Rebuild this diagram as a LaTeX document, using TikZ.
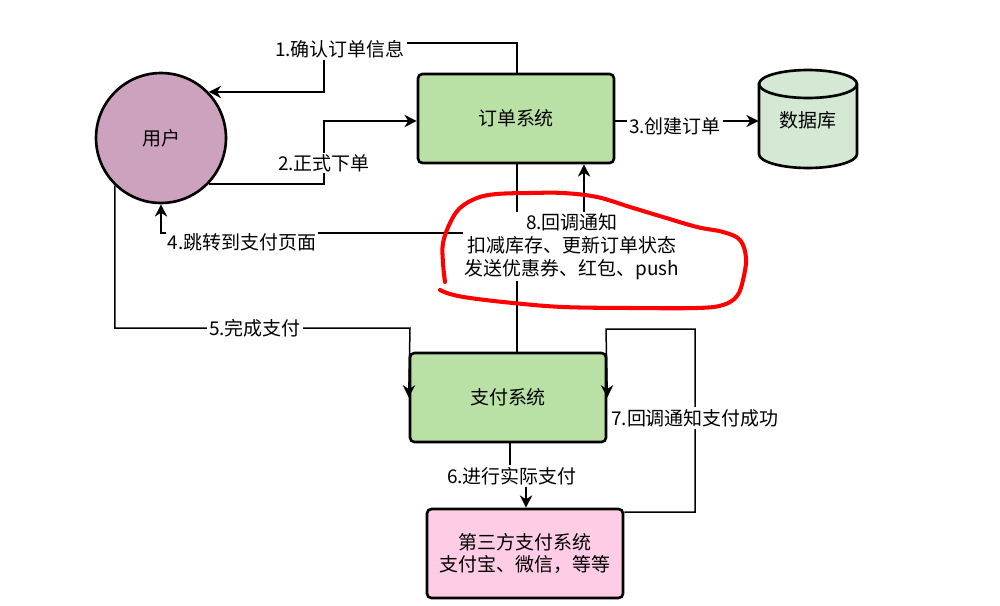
\documentclass[tikz,border=0pt]{standalone}
\usepackage{fontspec}
\setmainfont{Noto Sans CJK SC}
\usetikzlibrary{arrows.meta}
\definecolor{userfill}{HTML}{CDA2BE}
\definecolor{sysfill}{HTML}{B9E0A5}
\definecolor{dbfill}{HTML}{D5E8D4}
\definecolor{thirdfill}{HTML}{FFCCE6}
\definecolor{markred}{HTML}{FF0000}
\begin{document}
\begin{tikzpicture}[x=0.02cm,y=-0.02cm,
  font=\fontsize{10.8pt}{13pt}\selectfont,
  box/.style={draw, line width=1.5pt, rounded corners=2.5pt,
    minimum width=3.92cm, minimum height=1.78cm, inner sep=0pt, align=center},
  link/.style={line width=0.85pt, -{Stealth[length=7pt,width=7pt,inset=2.2pt]}},
  lbl/.style={fill=white, inner sep=1pt, align=center},
  outline/.style={line width=1.5pt},
]
\useasboundingbox (0,0) rectangle (1000,605);

% database cylinder body and front rim
\filldraw[outline, fill=dbfill] (759,84) -- (759,154)
  arc[start angle=180, end angle=360, x radius=0.98cm, y radius=0.28cm]
  -- (857,84)
  arc[start angle=0, end angle=180, x radius=0.98cm, y radius=0.28cm] -- cycle;
\draw[outline] (759,84)
  arc[start angle=180, end angle=360, x radius=0.98cm, y radius=0.28cm];

% nodes
\node[circle, draw, outline, fill=userfill, minimum size=2.6cm, inner sep=0pt]
  (user) at (161,138) {用户};
\node[box, fill=sysfill] (order) at (516,118.5) {订单系统};
\node[box, fill=sysfill] (pay) at (508,397.5) {支付系统};
\node[box, fill=thirdfill] (third) at (525,553.5) {第三方支付系统\\支付宝、微信，等等};
\node[minimum width=1.96cm, minimum height=1.96cm, inner sep=0pt] (db) at (808,120) {数据库};

% 1: confirm order info
\draw[link] (order.north -| 517,0) -- (517,43) -- (324,43)
  -- (324,0 |- user.44) -- (user.44);
\node[lbl] at (340,49) {1.确认订单信息};

% 2: place order
\draw[link] (user.-44) -| (324,121) -- (order.west |- 0,121);
\node[lbl] at (324,163) {2.正式下单};

% 3: create order
\draw[link] (order.east |- 0,121) -- (db.west |- 0,121);
\node[lbl] at (675,126) {3.创建订单};

% 4: redirect to payment page
\draw[link] (order.south -| 517,0) -- (517,233) -| (user.south);
\node[lbl] at (242,242) {4.跳转到支付页面};

% 8: callback to the order system
\draw[link] (pay.north -| 517,0) -- (517,245) -- (584,245) -- (order.south -| 584,0);
\node[lbl] at (572,246.5) {8.回调通知\\扣减库存、更新订单状态\\发送优惠券、红包、push};

% 5: payment done
\draw[link] (user.-134) |- (410,328) -- (pay.west);
\node[lbl] at (255,328) {5.完成支付};

% 6: actual payment
\draw[link] (pay.south -| 510,0) -- (510,476) -- (526,476) -- (third.north -| 526,0);
\node[lbl] at (512,476) {6.进行实际支付};

% 7: payment success callback
\draw[link] (third.east |- 0,512) -- (695,512) -- (695,329) -- (606,329) -- (pay.east);
\node[lbl] at (695,418) {7.回调通知支付成功};

% hand-drawn highlight around the callback note
\draw[markred, line width=2.3pt, line cap=round, line join=round]
  plot[smooth, tension=0.6] coordinates {
  (445,282) (443,263) (443,243) (450,223) (460,208) (477,198) (497,194)
  (530,193) (563,193) (597,197) (630,207) (663,217) (697,227) (723,232)
  (740,240) (746,258) (743,280) (737,296) (723,305) (697,308) (630,308)
  (563,307) (513,303) (470,298) (450,294) (440,290)};
\end{tikzpicture}
\end{document}
